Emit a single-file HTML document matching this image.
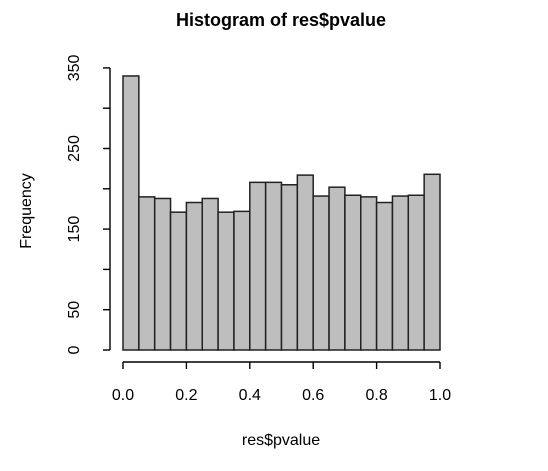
<!DOCTYPE html>
<html><head><meta charset="utf-8"><style>
body{margin:0;background:#fff}
svg{display:block;font-family:"Liberation Sans","DejaVu Sans",sans-serif}
</style></head><body>
<svg id="chart" width="548" height="471" viewBox="0 0 548 471">
<text x="281" y="26" text-anchor="middle" font-size="18" font-weight="bold">Histogram of res$pvalue</text>
<text x="281" y="445" text-anchor="middle" font-size="16">res$pvalue</text>
<text transform="translate(31,211) rotate(-90)" text-anchor="middle" font-size="16">Frequency</text>
<g id="bars"></g><g id="axes"></g>
</svg>
<script>
const counts=[340,190,188,171,183,188,171,172,208,208,205,217,191,202,192,190,183,191,192,218];
const binStart=0, binWidth=0.05;
const xTicks=[0,0.2,0.4,0.6,0.8,1.0];
const xTickLabels=["0.0","0.2","0.4","0.6","0.8","1.0"];
const yTicks=[0,50,100,150,200,250,300,350];
const yTickLabels=["0","50","","150","","250","","350"];
const NS="http://www.w3.org/2000/svg";
const xs=v=>123+v*317;
const ys=v=>350-v*0.806;
const bars=document.getElementById('bars'),axes=document.getElementById('axes');
function mk(tag,attrs,parent){const e=document.createElementNS(NS,tag);for(const k in attrs)e.setAttribute(k,attrs[k]);parent.appendChild(e);return e;}
counts.forEach((c,i)=>{
 const x0=xs(binStart+i*binWidth),x1=xs(binStart+(i+1)*binWidth);
 const r=mk('rect',{x:x0,y:ys(c),width:x1-x0,height:ys(0)-ys(c),fill:'#bebebe',stroke:'#222','stroke-width':1.5},bars);
 
 
});
const xa=mk('line',{x1:xs(0),x2:xs(1),y1:362,y2:362,stroke:'#000','stroke-width':1.4},axes);


xTicks.forEach((t,i)=>{
 mk('line',{x1:xs(t),x2:xs(t),y1:362,y2:369,stroke:'#000','stroke-width':1.4},axes);
 const tx=mk('text',{x:xs(t),y:400,'text-anchor':'middle','font-size':16},axes);
 tx.textContent=xTickLabels[i];
 
 
});
const ya=mk('line',{x1:110,x2:110,y1:ys(0),y2:ys(350),stroke:'#000','stroke-width':1.4},axes);


yTicks.forEach((t,i)=>{
 mk('line',{x1:103,x2:110,y1:ys(t),y2:ys(t),stroke:'#000','stroke-width':1.4},axes);
 if(yTickLabels[i]){
  const tx=mk('text',{transform:`translate(79,${ys(t)}) rotate(-90)`,'text-anchor':'middle','font-size':16},axes);
  tx.textContent=yTickLabels[i];
  
  
 }
});
</script>
</body></html>
